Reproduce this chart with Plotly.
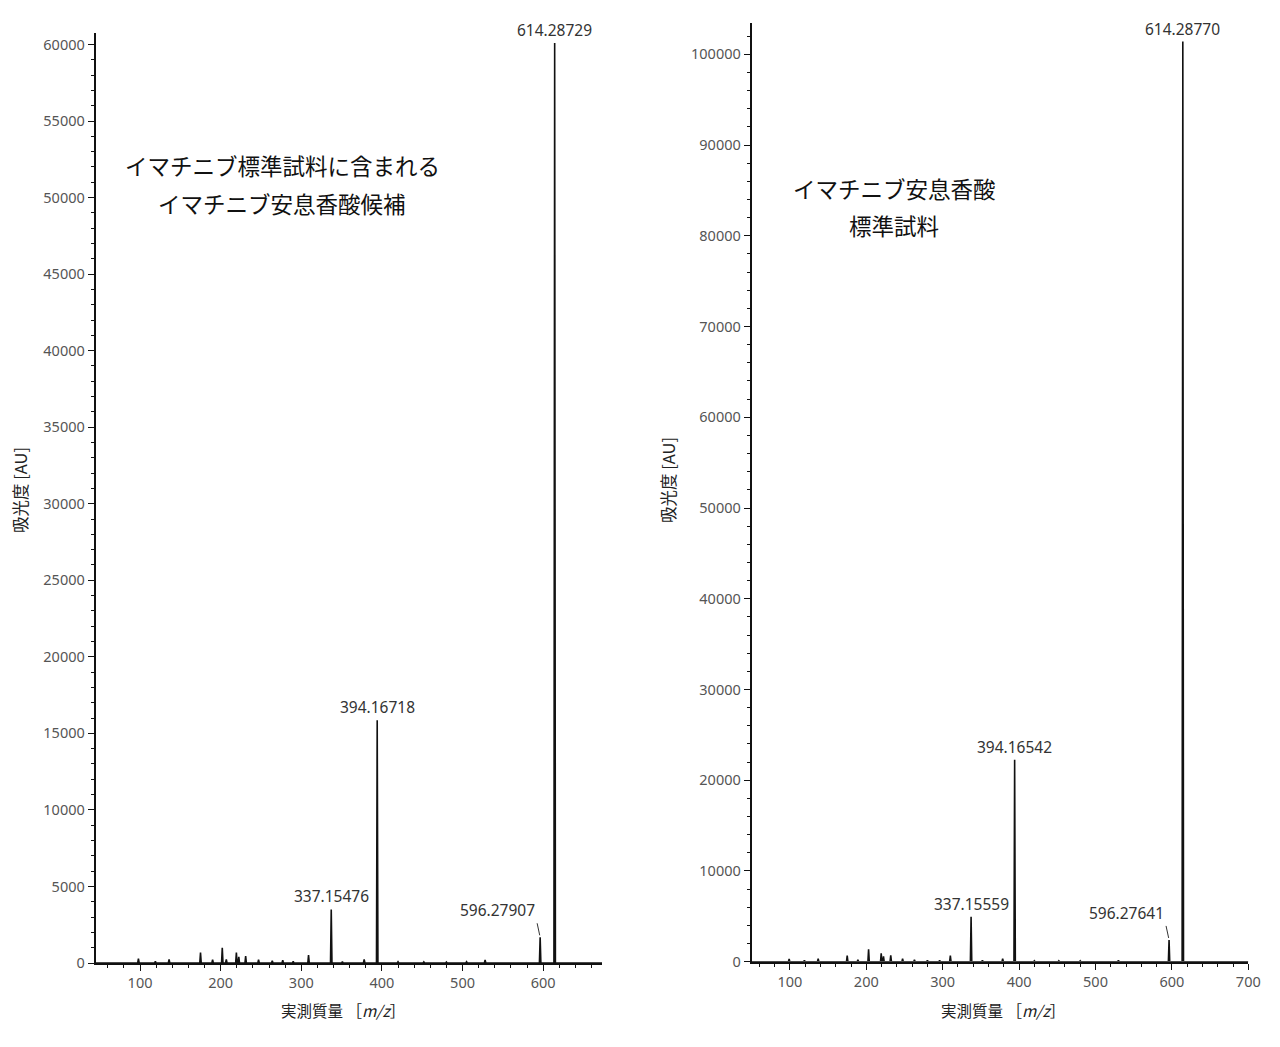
import plotly.graph_objects as go

# ---------------- data ----------------
mz_left = [98, 119, 136, 175, 190, 202, 207, 219.5, 222.5, 231, 247, 264, 277, 290, 309,
           337.15476, 351, 378, 394.16718, 420, 452, 480, 505, 528, 596.27907, 614.28729]
int_left = [280, 110, 240, 680, 220, 1000, 240, 680, 400, 460, 220, 150, 180, 110, 520,
            3500, 90, 230, 15850, 80, 70, 60, 80, 200, 1680, 60100]

mz_right = [99, 119, 137, 175, 189, 203, 219.5, 222.5, 232, 247.5, 263, 280, 296, 310,
            337.15559, 352, 378.5, 394.16542, 420, 452, 480, 530, 596.27641, 614.28770]
int_right = [300, 150, 330, 660, 220, 1360, 920, 600, 700, 330, 200, 150, 150, 660,
             4950, 150, 330, 22250, 100, 100, 100, 150, 2400, 101400]

labels_left = ["337.15476", "394.16718", "596.27907", "614.28729"]
labels_right = ["337.15559", "394.16542", "596.27641", "614.28770"]

xrange_left = [45, 673]
xrange_right = [50, 700]
yrange_left = [0, 60750]
yrange_right = [0, 103450]

# the page body adds an 8px margin, so targets are shifted by OFF
OFF = 8
W, H = 1280, 1047
FONT = "Noto Sans, Noto Sans CJK JP"
JP = "Noto Sans CJK JP"


def fx(px):
    return (px - OFF) / W


def fy(py):
    return 1 - (py - OFF) / H


def stick(mz, inten, xr, w=0.9):
    xs, ys = [xr[0]], [0]
    for m, h in sorted(zip(mz, inten)):
        xs += [m - w, m, m + w]
        ys += [0, h, 0]
    xs.append(xr[1])
    ys.append(0)
    return xs, ys


fig = go.Figure()
xl, yl = stick(mz_left, int_left, xrange_left)
xr_, yr_ = stick(mz_right, int_right, xrange_right)
fig.add_trace(go.Scatter(x=xl, y=yl, mode="lines", line=dict(color="#111", width=1.6),
                         xaxis="x", yaxis="y", showlegend=False, hoverinfo="skip"))
fig.add_trace(go.Scatter(x=xr_, y=yr_, mode="lines", line=dict(color="#111", width=1.6),
                         xaxis="x2", yaxis="y2", showlegend=False, hoverinfo="skip"))

tickfont = dict(family=FONT, size=14.5, color="#555")
common_x = dict(showgrid=False, zeroline=False, showline=True, linecolor="#111", linewidth=2,
                ticks="outside", ticklen=6, tickcolor="#111", tickwidth=1, tickfont=tickfont,
                dtick=100, tick0=0, tickformat="d", automargin=False)
common_y = dict(showgrid=False, zeroline=False, showline=True, linecolor="#111", linewidth=2,
                ticks="outside", ticklen=6, tickcolor="#111", tickwidth=1, tickfont=tickfont,
                tick0=0, tickformat="d", automargin=False)
minor_x = dict(dtick=20, tick0=0, ticks="outside", ticklen=3, tickcolor="#111")

fig.update_layout(
    width=W, height=H,
    margin=dict(l=0, r=0, t=0, b=0, pad=0, autoexpand=False),
    paper_bgcolor="white", plot_bgcolor="white",
    xaxis=dict(common_x, domain=[fx(95.7), fx(602)], range=xrange_left, anchor="y", minor=minor_x),
    yaxis=dict(common_y, domain=[fy(963), fy(33)], range=yrange_left, anchor="x", dtick=5000,
               minor=dict(dtick=1000, tick0=0, ticks="outside", ticklen=3, tickcolor="#111")),
    xaxis2=dict(common_x, domain=[fx(751.7), fx(1248.3)], range=xrange_right, anchor="y2",
                minor=minor_x),
    yaxis2=dict(common_y, domain=[fy(961.7), fy(23)], range=yrange_right, anchor="x2",
                dtick=10000,
                minor=dict(dtick=2000, tick0=0, ticks="outside", ticklen=3, tickcolor="#111")),
)

lab_font = dict(family=FONT, size=15.5, color="#333")
ann = []


def peak_labels(mz, inten, labels, xa, ya):
    for lab in labels:
        m = float(lab)
        i = min(range(len(mz)), key=lambda k: abs(mz[k] - m))
        h = inten[i]
        if lab.startswith("596"):
            ann.append(dict(x=mz[i], y=h, xref=xa, yref=ya, text=lab, showarrow=True,
                            arrowhead=0, arrowwidth=1, arrowcolor="#333", ax=-3, ay=-14,
                            standoff=2, xanchor="right", yanchor="bottom", font=lab_font))
        else:
            ann.append(dict(x=mz[i], y=h, xref=xa, yref=ya, text=lab, showarrow=False,
                            xanchor="center", yanchor="bottom", yshift=0, font=lab_font))


peak_labels(mz_left, int_left, labels_left, "x", "y")
peak_labels(mz_right, int_right, labels_right, "x2", "y2")

big = dict(family=JP, size=22.5, color="#111")
for txt, px, py in [("イマチニブ標準試料に含まれる", 282, 165), ("イマチニブ安息香酸候補", 282, 203),
                    ("イマチニブ安息香酸", 894, 188), ("標準試料", 894, 225)]:
    ann.append(dict(x=fx(px), y=fy(py), xref="paper", yref="paper", text=txt,
                    showarrow=False, font=big, xanchor="center", yanchor="middle"))

for px, py in [(20, 490), (668, 480)]:
    ann.append(dict(x=fx(px), y=fy(py), xref="paper", yref="paper", text="吸光度 [AU]",
                    textangle=-90, showarrow=False,
                    font=dict(family=JP, size=16.5, color="#222"),
                    xanchor="center", yanchor="middle"))
for px, py in [(343, 1010), (1003, 1010)]:
    ann.append(dict(x=fx(px), y=fy(py), xref="paper", yref="paper",
                    text="実測質量 ［<i>m/z</i>］", showarrow=False,
                    font=dict(family=JP, size=15.5, color="#222"),
                    xanchor="center", yanchor="middle"))

fig.update_layout(annotations=ann)
fig.write_html("out.html")
